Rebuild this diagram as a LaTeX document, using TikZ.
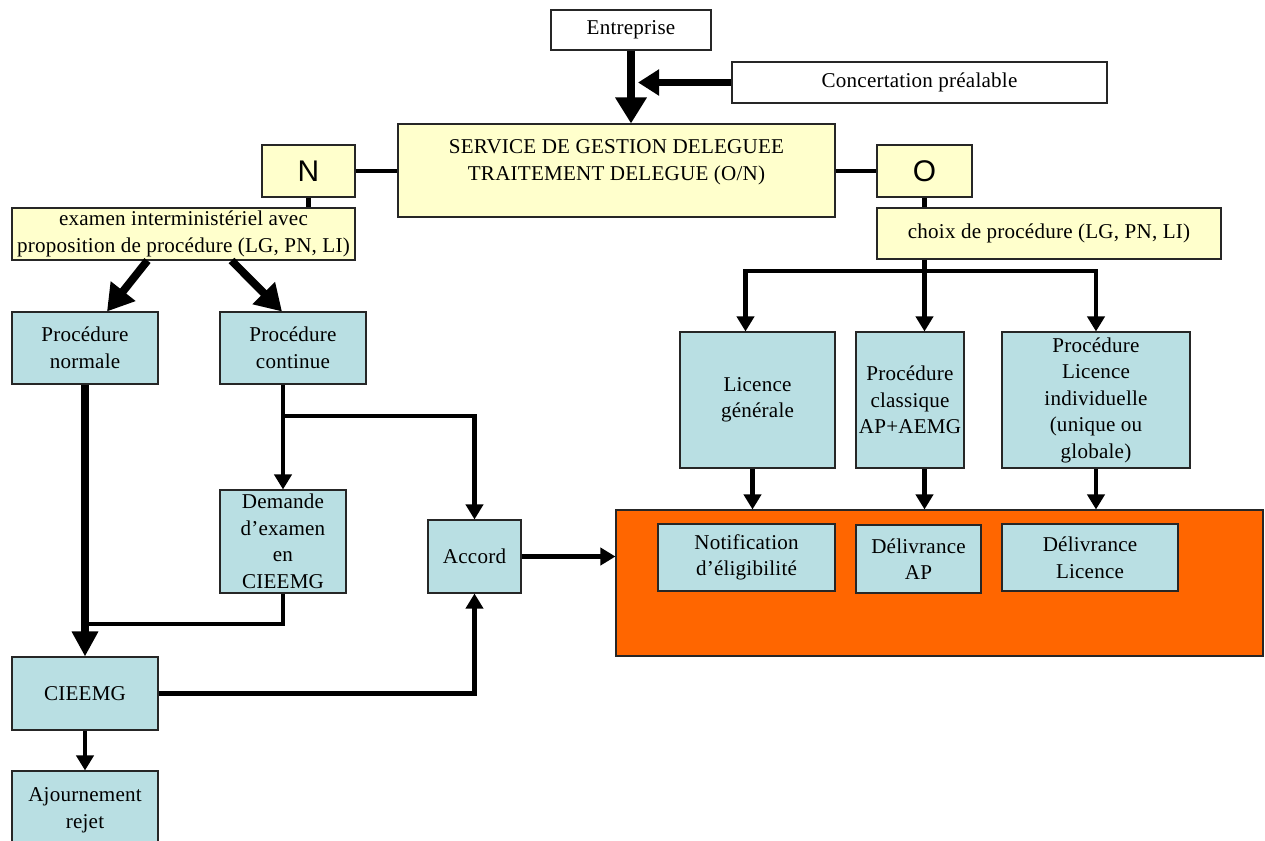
\documentclass[tikz,border=0pt]{standalone}
\usepackage{fontspec}
\setmainfont{Liberation Serif}[LetterSpace=1]
\newfontfamily\arialf{Liberation Sans}
\usetikzlibrary{arrows.meta,calc}
\definecolor{boxyellow}{RGB}{255,255,204}
\definecolor{boxblue}{RGB}{185,223,227}
\definecolor{orangebg}{RGB}{255,102,0}
\def\pxu{0.02cm}
\newcommand\pbox[7]{\node[#6, minimum width={(#4-#2)*\pxu}, minimum height={(#5-#3)*\pxu}] (#1) at ({(#2+#4)/2},{(#3+#5)/2}) {#7};}
\begin{document}
\begin{tikzpicture}[x=0.02cm,y=-0.02cm,
  txt/.style={inner sep=0pt, align=center, font=\fontsize{12}{15.1}\selectfont},
  base/.style={txt, draw=black!85, line width=0.6pt},
  ybox/.style={base, fill=boxyellow},
  bbox/.style={base, fill=boxblue},
  wbox/.style={base, fill=white},
  letter/.style={font=\arialf\fontsize{17}{20}\selectfont},
  conn/.style={line width=2.5pt},
  arr/.style={line width=2.5pt, -{Triangle[length=0.3cm,width=0.34cm]}},
  thickarr/.style={line width=4pt, -{Triangle[length=0.5cm,width=0.5cm]}},
  bigarr/.style={line width=4.5pt, -{Triangle[length=0.52cm,width=0.6cm]}},
  medarr/.style={line width=4pt, -{Triangle[length=0.42cm,width=0.5cm]}}
]
\useasboundingbox (0,0) rectangle (1265,840);
% nodes
\pbox{ent}{551}{10}{711}{50}{wbox}{Entreprise}
\pbox{conc}{732}{62}{1107}{103}{wbox}{Concertation préalable}
\pbox{svc}{398}{124}{835}{217}{ybox}{}
\node[txt] (svct) at (616.5,162) {SERVICE DE GESTION DELEGUEE\\TRAITEMENT DELEGUE (O/N)};
\pbox{nbox}{262}{145}{355}{197}{ybox, letter}{N}
\pbox{obox}{877}{145}{972}{197}{ybox, letter}{O}
\pbox{exam}{12}{208}{355}{260}{ybox}{examen interministériel avec\\proposition de procédure (LG, PN, LI)}
\pbox{choix}{877}{208}{1221}{259}{ybox}{choix de procédure (LG, PN, LI)}
\pbox{pn}{12}{312}{158}{384}{bbox}{Procédure\\normale}
\pbox{pc}{220}{312}{366}{384}{bbox}{Procédure\\continue}
\pbox{lg}{680}{332}{835}{468}{bbox}{Licence\\générale}
\pbox{cls}{856}{332}{964}{468}{bbox}{Procédure\\classique\\AP+AEMG}
\pbox{li}{1002}{332}{1190}{468}{bbox}{Procédure\\Licence\\individuelle\\(unique ou\\globale)}
\pbox{dem}{220}{490}{346}{593}{bbox}{Demande\\d’examen\\en\\CIEEMG}
\pbox{acc}{428}{520}{521}{593}{bbox}{Accord}
\pbox{orange}{616}{510}{1263}{656}{base, fill=orangebg}{}
\pbox{notif}{658}{524}{835}{591}{bbox}{Notification\\d’éligibilité}
\pbox{dap}{856}{525}{981}{593}{bbox}{Délivrance\\AP}
\pbox{dlic}{1002}{524}{1178}{591}{bbox}{Délivrance\\Licence}
\pbox{cie}{12}{657}{158}{730}{bbox}{CIEEMG}
\pbox{aj}{12}{771}{158}{850}{bbox}{Ajournement\\rejet}
% helper coordinates
\coordinate (hubY) at (0,271);
\coordinate (brY) at (0,416);
\coordinate (jY) at (0,624);
\coordinate (hub) at (obox.south |- hubY);
% top
\draw[bigarr] (ent.south) -- (ent.south |- svc.north);
\draw[medarr, shorten >=4pt] (conc.west) -- (ent.south |- conc.west);
\draw[conn] (nbox.east) -- (nbox.east -| svc.west);
\draw[conn] (svc.east |- obox.west) -- (obox.west);
\draw[conn] (nbox.south) -- (nbox.south |- exam.north);
\draw[conn] (obox.south) -- (obox.south |- choix.north);
% right branch
\draw[conn] (obox.south |- choix.south) -- (hub);
\draw[arr] (hub) -| ($(lg.north)+(-12,0)$);
\draw[arr] (hub) -| (li.north);
\draw[arr] (hub) -- (hub |- cls.north);
\draw[arr] ($(lg.south)+(-5,0)$) -- ($(lg.south |- orange.north)+(-5,0)$);
\draw[arr] (hub |- cls.south) -- (hub |- orange.north);
\draw[arr] (li.south) -- (li.south |- orange.north);
% left branch
\draw[bigarr] ($(exam.south west)+(136,0)$) -- ($(pn.north)+(22,0)$);
\draw[bigarr] ($(exam.south west)+(220,0)$) -- ($(pc.north)+(-11,0)$);
\draw[thickarr] (pn.south) -- (cie.north);
\draw[arr] (pc.south -| dem.north) -- (dem.north);
\draw[arr] (dem.north |- brY) -| (acc.north);
\draw[conn] (dem.south) |- (pn.south |- jY);
\draw[arr] (cie.east) -| (acc.south);
\draw[arr] (cie.south) -- (aj.north);
\draw[arr] (acc.east) -- (orange.west |- acc.east);
\end{tikzpicture}
\end{document}
